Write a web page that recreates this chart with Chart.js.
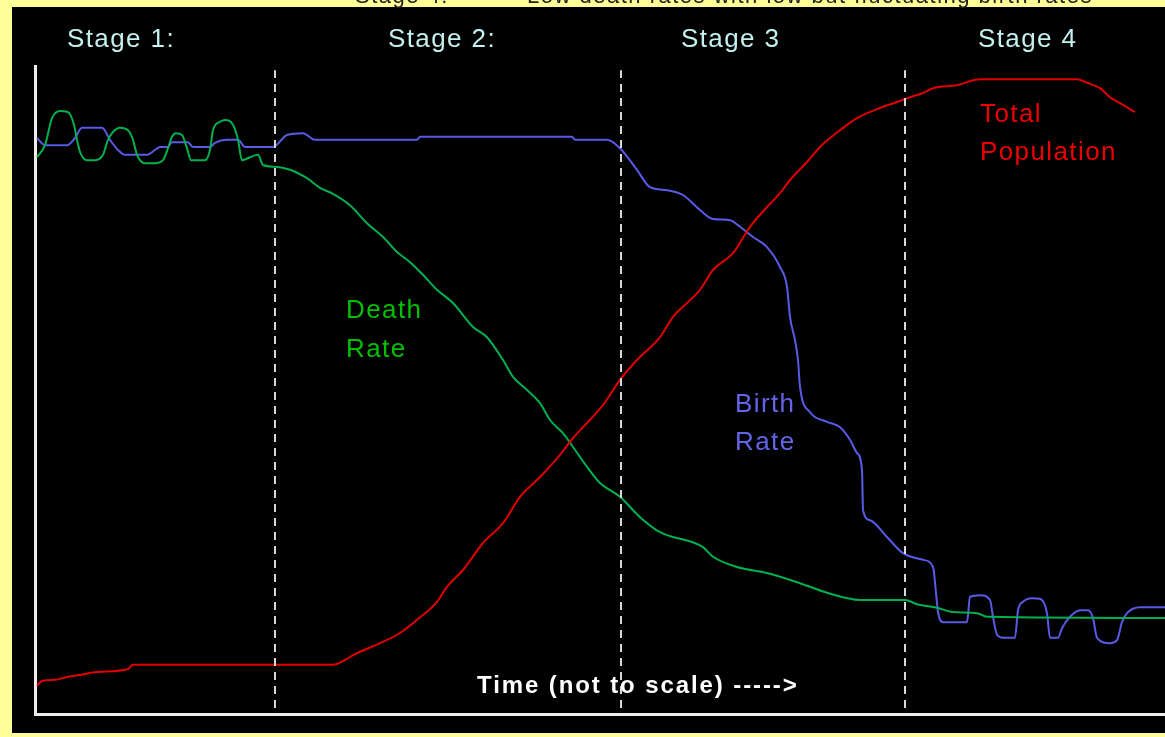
<!DOCTYPE html>
<html>
<head>
<meta charset="utf-8">
<script src="https://cdn.jsdelivr.net/npm/chart.js@4.4.0/dist/chart.umd.min.js"></script>
<style>
html, body { margin: 0; padding: 0; background: #ffff99; }
#wrap { width: 1165px; height: 737px; position: relative; }
</style>
</head>
<body>
<div id="wrap"><canvas id="transition"></canvas></div>
<script>
// Temps (unités arbitraires) et niveaux

// Taux de mortalité
const deathT = [0.2, 1.0, 1.7, 2.5, 3.3, 3.9, 4.2, 4.5, 5.2, 6.0, 6.8, 7.3, 7.8, 8.5, 9.3, 9.8, 10.2, 11.0, 12.0, 12.8,
  13.3, 13.7, 14.1, 14.7, 15.2, 15.6, 17.0, 17.5, 17.8, 18.5, 19.0, 19.8, 20.3, 20.7, 21.5, 22.3, 22.8, 24.0, 25.5, 27.2,
  28.5, 29.8, 31.5, 33.2, 34.8, 36.2, 37.5, 38.8, 40.2, 41.8, 43.8, 45.2, 46.8, 47.8, 49.2, 50.5, 51.5, 52.8, 53.8, 55.2,
  56.5, 58.5, 60.5, 62.5, 66.8, 67.8, 70.2, 73.2, 76.5, 79.2, 82.5, 87.0, 88.2, 90.2, 91.8, 94.2, 95.2, 113];
const deathV = [92.8, 94.8, 99.3, 100.5, 100.3, 98.2, 95.7, 93.7, 92.3, 92.3, 93.2, 95.7, 97.0, 97.7, 97.3, 95.7, 93.2, 91.8, 91.8, 92.3,
  94.3, 96.2, 96.8, 96.5, 94.3, 92.3, 92.3, 94.0, 97.3, 98.7, 99.0, 98.2, 95.7, 92.3, 92.8, 93.2, 91.5, 91.2, 90.7, 89.3,
  87.7, 86.7, 84.8, 81.8, 79.5, 77.0, 75.3, 73.2, 70.7, 68.5, 64.5, 62.8, 59.0, 56.2, 54.0, 51.8, 49.0, 46.8, 44.5, 41.2,
  38.5, 36.2, 32.8, 30.3, 27.8, 26.2, 24.5, 23.5, 21.8, 20.2, 19.0, 19.0, 18.3, 17.7, 17.0, 16.8, 16.2, 16.0];

// Taux de natalité
const birthT = [0.2, 1.0, 3.2, 4.0, 4.7, 6.7, 7.5, 8.3, 9.0, 11.2, 12.0, 12.5, 13.3, 13.7, 15.3, 15.8, 17.5, 18.0, 19.2, 20.3,
  21.0, 23.8, 25.2, 26.8, 28.0, 38.2, 38.5, 53.7, 54.0, 57.2, 58.5, 60.2, 61.5, 63.2, 64.8, 66.5, 67.8, 69.5, 70.5, 71.8,
  73.2, 74.5, 75.2, 75.5, 76.0, 76.3, 76.5, 77.5, 79.2, 80.5, 81.5, 82.2, 82.7, 82.8, 83.5, 85.2, 86.8, 88.8, 89.8, 90.1,
  90.3, 90.8, 93.2, 93.5, 94.5, 95.5, 95.8, 96.2, 96.8, 98.0, 98.3, 98.8, 99.7, 100.5, 101.2, 101.5, 102.3, 102.7, 103.5, 104.5,
  105.3, 105.8, 106.2, 107.5, 108.2, 108.7, 109.2, 110.5, 113];
const birthV = [96.0, 94.8, 94.8, 96.0, 97.7, 97.7, 95.7, 94.0, 93.2, 93.2, 94.0, 94.5, 94.5, 95.3, 95.3, 94.5, 94.5, 95.2, 95.7, 95.7,
  94.5, 94.5, 96.5, 96.8, 95.7, 95.7, 96.2, 96.2, 95.7, 95.7, 94.3, 90.7, 87.8, 87.3, 86.5, 84.0, 82.5, 82.3, 81.2, 79.5,
  77.8, 74.5, 71.2, 66.2, 62.3, 59.0, 54.5, 50.3, 48.7, 47.8, 45.7, 43.5, 40.7, 34.0, 32.3, 29.5, 26.8, 25.7, 24.5, 20.2,
  17.0, 15.3, 15.3, 19.5, 19.8, 19.0, 16.2, 13.2, 12.7, 12.7, 17.3, 18.7, 19.3, 19.2, 16.8, 12.7, 12.7, 14.3, 16.2, 17.3,
  17.3, 16.0, 12.7, 11.8, 12.3, 15.3, 16.8, 17.8, 17.8];

// Population totale
const popT = [0.2, 0.7, 2.0, 3.3, 4.5, 6.2, 9.3, 9.8, 29.8, 31.0, 31.8, 34.5, 36.5, 38.2, 40.2, 41.2, 42.8, 44.8, 46.8, 48.5,
  50.5, 52.5, 53.8, 55.2, 56.8, 58.5, 60.2, 62.5, 63.8, 65.2, 66.5, 67.8, 69.8, 71.5, 73.2, 74.5, 75.5, 77.2, 78.5, 79.5,
  80.5, 82.2, 84.5, 86.2, 87.5, 88.8, 89.8, 92.2, 94.5, 104.2, 105.2, 106.5, 107.5, 108.5, 110.0];
const popV = [4.7, 5.5, 5.7, 6.2, 6.5, 7.0, 7.5, 8.2, 8.2, 9.0, 9.8, 11.8, 13.5, 15.7, 18.7, 21.2, 24.0, 28.5, 31.8, 36.2,
  39.5, 43.2, 46.0, 48.5, 51.5, 55.7, 59.0, 62.8, 66.2, 68.5, 70.7, 74.0, 76.8, 81.2, 84.5, 86.8, 89.0, 92.0, 94.5, 96.0,
  97.3, 99.3, 101.0, 102.0, 102.8, 103.5, 104.3, 104.8, 105.8, 105.8, 105.2, 104.3, 102.8, 101.8, 100.3];

// Limites des étapes (lignes pointillées)
const stageBounds = [24.0, 58.6, 87.0];
const stageLineRange = [1.0, 107.3];

// Textes posés dans le repère du graphique
const labelTexts = ['Stage 1:', 'Stage 2:', 'Stage 3', 'Stage 4', 'Death', 'Rate', 'Birth', 'Rate', 'Total', 'Population', 'Time (not to scale) ----->'];
const labelT = [3.2, 35.3, 64.6, 94.3, 31.1, 31.1, 70.0, 70.0, 94.5, 94.5, 44.2];
const labelV = [111.2, 111.2, 111.2, 111.2, 66.0, 59.5, 50.3, 44.0, 98.7, 92.3, 3.5];
const labelColors = ['#c4f0f0', '#c4f0f0', '#c4f0f0', '#c4f0f0', '#00c000', '#00c000', '#6464e8', '#6464e8', '#ee0000', '#ee0000', '#ffffff'];

const toPoints = (ts, vs) => ts.map((t, i) => ({ x: t, y: vs[i] }));

const decor = {
  id: 'decor',
  beforeDraw(chart) {
    const c = chart.ctx;
    c.save();
    c.fillStyle = '#ffff99';
    c.fillRect(0, 0, chart.width, chart.height);
    c.fillStyle = '#000';
    c.fillRect(12, 7, chart.width - 12, 726);
    // titre coupé en haut de l'image
    c.fillStyle = '#222';
    c.font = '22px "Liberation Sans", Arial, sans-serif';
    c.letterSpacing = '1.5px';
    c.textBaseline = 'alphabetic';
    c.fillText('Stage 4:', 355, 3);
    c.fillText('Low death rates with low but fluctuating birth rates', 527, 3);
    c.restore();
  },
  afterDraw(chart) {
    const { ctx: c, scales: { x, y } } = chart;
    c.save();
    c.textBaseline = 'alphabetic';
    c.textAlign = 'left';
    labelTexts.forEach((txt, i) => {
      const last = i === labelTexts.length - 1;
      c.font = (last ? 'bold 24px' : '26px') + ' "Liberation Sans", Arial, sans-serif';
      c.letterSpacing = last ? '1.9px' : '1.4px';
      c.fillStyle = labelColors[i];
      c.fillText(txt, x.getPixelForValue(labelT[i]), y.getPixelForValue(labelV[i]));
    });
    c.restore();
  }
};

const stageLines = stageBounds.map(t => ({
  data: [{ x: t, y: stageLineRange[0] }, { x: t, y: stageLineRange[1] }],
  borderColor: '#d8d8d8',
  borderWidth: 2,
  borderDash: [8, 6],
  pointRadius: 0
}));

const ctx = document.getElementById('transition').getContext('2d');

const chart = new Chart(ctx, {
  type: 'line',
  data: {
    datasets: [
      ...stageLines,
      { label: 'Total Population', data: toPoints(popT, popV), borderColor: '#e00000', borderWidth: 2, pointRadius: 0, cubicInterpolationMode: 'monotone' },
      { label: 'Death Rate', data: toPoints(deathT, deathV), borderColor: '#00b050', borderWidth: 2, pointRadius: 0, cubicInterpolationMode: 'monotone' },
      { label: 'Birth Rate', data: toPoints(birthT, birthV), borderColor: '#5a5ae6', borderWidth: 2, pointRadius: 0, cubicInterpolationMode: 'monotone' }
    ]
  },
  options: {
    responsive: true,
    maintainAspectRatio: false,
    animation: false,
    layout: { padding: { left: 35, top: 66, right: 0, bottom: 23 } },
    plugins: { legend: { display: false }, tooltip: { enabled: false } },
    scales: {
      x: {
        type: 'linear', min: 0, max: 113,
        ticks: { display: false },
        grid: { display: false, drawTicks: false },
        border: { display: true, color: '#eeeeee', width: 3 }
      },
      y: {
        min: 0, max: 108,
        ticks: { display: false },
        grid: { display: false, drawTicks: false },
        border: { display: true, color: '#eeeeee', width: 3 }
      }
    }
  },
  plugins: [decor]
});
</script>
</body>
</html>
